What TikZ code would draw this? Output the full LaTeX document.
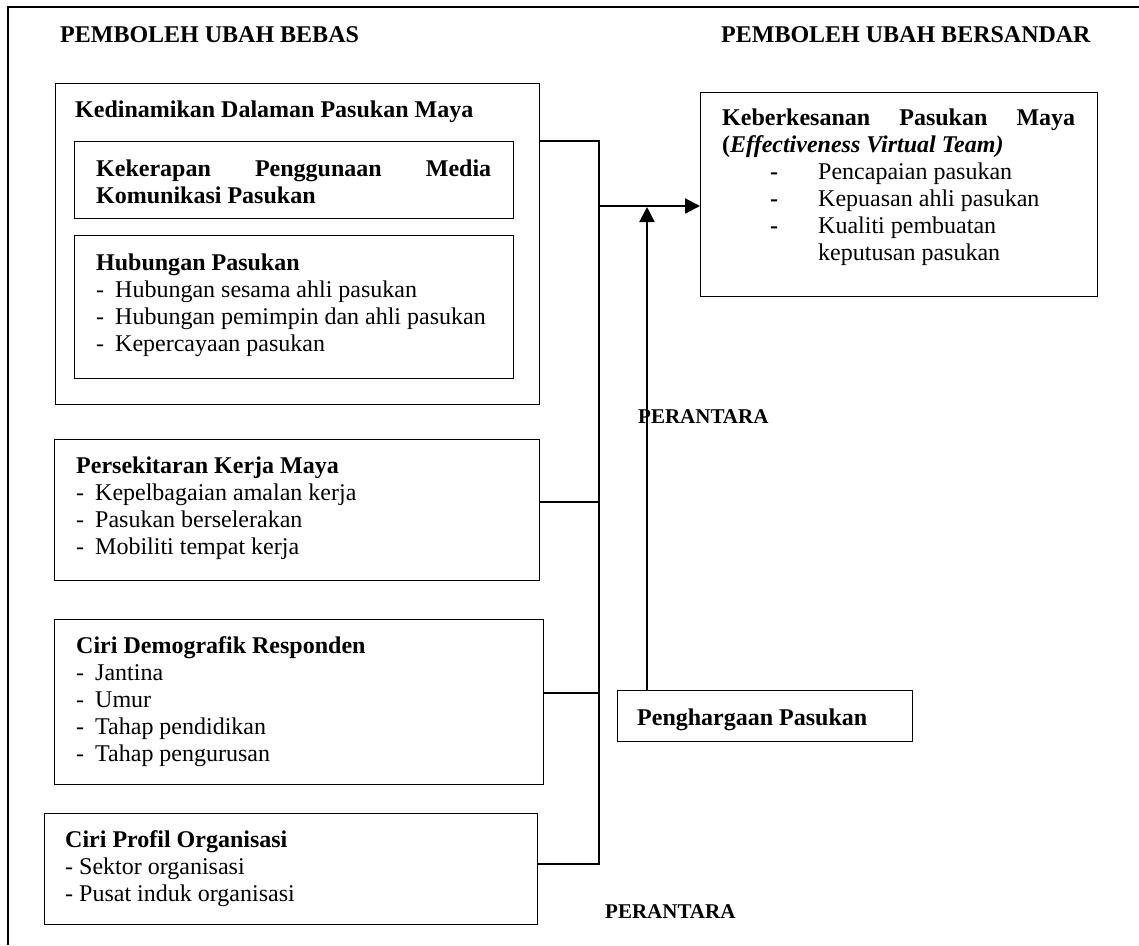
\documentclass[tikz,border=0pt]{standalone}
\usepackage{fontspec}
\setmainfont{Liberation Serif}
\usetikzlibrary{arrows.meta}
\begin{document}
\begin{tikzpicture}[x=1pt,y=-1pt,
  box/.style={draw, line width=1.4pt, anchor=north west, inner sep=0pt},
  txt/.style={anchor=base west, inner sep=0pt, font=\fontsize{24}{27}\selectfont},
  ptxt/.style={anchor=base west, inner sep=0pt, font=\fontsize{21}{24}\selectfont\bfseries},
  conn/.style={line width=1.4pt},
  arr/.style={line width=2.2pt, -{Triangle[length=15pt,width=15pt]}}]
\useasboundingbox (0,0) rectangle (1139,945);
\fill[white] (0,0) rectangle (1139,945);
% outer frame
\draw[line width=1.4pt] (8,945) -- (8,7) -- (1139,7);

% headings
\node[txt, font=\fontsize{24}{27}\selectfont\bfseries] (h1) at (60,42) {PEMBOLEH UBAH BEBAS};
\node[txt, font=\fontsize{24}{27}\selectfont\bfseries] (h2) at (721,42) {PEMBOLEH UBAH BERSANDAR};

% boxes
\node[box, minimum width=484pt, minimum height=321pt] (A) at (55,83) {};
\node[box, minimum width=439pt, minimum height=77pt] (A1) at (74,141) {};
\node[box, minimum width=439pt, minimum height=143pt] (A2) at (74,235) {};
\node[box, minimum width=485pt, minimum height=141pt] (B) at (54,439) {};
\node[box, minimum width=489pt, minimum height=165pt] (C) at (54,619) {};
\node[box, minimum width=493pt, minimum height=111pt] (D) at (44,813) {};
\node[box, minimum width=397pt, minimum height=204pt] (E) at (700,92) {};
\node[box, minimum width=295pt, minimum height=51pt] (F) at (617,690) {};

% texts
\node[txt] (tA) at (75,117) {\bfseries Kedinamikan Dalaman Pasukan Maya};
\node[txt] (tA1) at (96,176) {\parbox[t]{400pt}{\raggedright\bfseries
  \makebox[395pt]{Kekerapan\hfill Penggunaan\hfill Media}\\
  Komunikasi Pasukan}};
\node[txt] (tA2) at (96,270) {\parbox[t]{420pt}{\raggedright
  \textbf{Hubungan Pasukan}\\
  \makebox[19pt][l]{-}Hubungan sesama ahli pasukan\\
  \makebox[19pt][l]{-}Hubungan pemimpin dan ahli pasukan\\
  \makebox[19pt][l]{-}Kepercayaan pasukan}};
\node[txt] (tB) at (76,473) {\parbox[t]{440pt}{\raggedright
  \textbf{Persekitaran Kerja Maya}\\
  \makebox[19pt][l]{-}Kepelbagaian amalan kerja\\
  \makebox[19pt][l]{-}Pasukan berselerakan\\
  \makebox[19pt][l]{-}Mobiliti tempat kerja}};
\node[txt] (tC) at (76,653) {\parbox[t]{440pt}{\raggedright
  \textbf{Ciri Demografik Responden}\\
  \makebox[19pt][l]{-}Jantina\\
  \makebox[19pt][l]{-}Umur\\
  \makebox[19pt][l]{-}Tahap pendidikan\\
  \makebox[19pt][l]{-}Tahap pengurusan}};
\node[txt] (tD) at (65,847) {\parbox[t]{440pt}{\raggedright
  \textbf{Ciri Profil Organisasi}\\
  - Sektor organisasi\\
  - Pusat induk organisasi}};
\node[txt] (tE) at (722,125) {\parbox[t]{370pt}{\raggedright
  \textbf{\makebox[353pt]{Keberkesanan\hfill Pasukan\hfill Maya}}\\
  \textbf{(\textit{Effectiveness Virtual Team)}}\\
  \hspace*{48pt}\makebox[48pt][l]{\textbf{-}}Pencapaian pasukan\\
  \hspace*{48pt}\makebox[48pt][l]{\textbf{-}}Kepuasan ahli pasukan\\
  \hspace*{48pt}\makebox[48pt][l]{\textbf{-}}Kualiti pembuatan\\
  \hspace*{96pt}keputusan pasukan}};
\node[txt] (tF) at (637,725) {\bfseries Penghargaan Pasukan};
\node[ptxt] (p1) at (638,423) {PERANTARA};
\node[ptxt] (p2) at (605,918) {PERANTARA};

% connector junctions
\coordinate (jA) at (599,141);
\coordinate (jB) at (599,502);
\coordinate (jC) at (599,693);
\coordinate (jD) at (599,864);
\coordinate (jM) at (599,206);
\coordinate (jV) at (647,207);

\draw[conn] (jA -| A.east) -- (jA) -- (jD) -- (jD -| D.east);
\draw[conn] (jB -| B.east) -- (jB);
\draw[conn] (jC -| C.east) -- (jC);
\draw[arr] (jM) -- (jM -| E.west);
\draw[arr] (jV |- F.north) -- (jV);
\end{tikzpicture}
\end{document}
